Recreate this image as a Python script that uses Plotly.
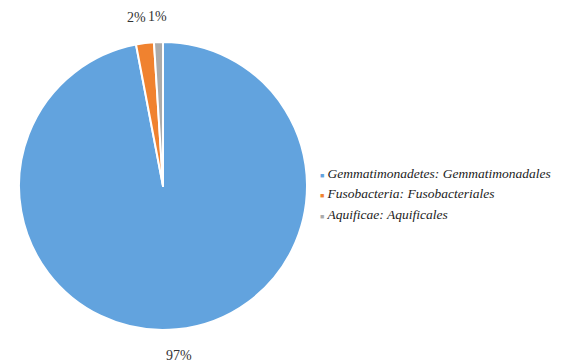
import math
import plotly.graph_objects as go

# Phylum: order shares
labels = [
    "Gemmatimonadetes: Gemmatimonadales",
    "Fusobacteria: Fusobacteriales",
    "Aquificae: Aquificales",
]
shares = [97, 2, 1]
colors = ["#62A3DE", "#F0822F", "#ABABAB"]

W, H = 567, 364
CX, CY, R = 163, 186, 144      # pie centre / radius in pixels
LABEL_R = 170                  # distance of percentage labels from centre
FONT_SIZE = 14
SERIF = "Liberation Serif, Times New Roman, serif"

fig = go.Figure()
fig.add_trace(go.Pie(
    labels=labels,
    values=shares,
    sort=False,
    direction="clockwise",
    rotation=0,
    marker=dict(colors=colors, line=dict(color="white", width=2)),
    textinfo="none",
    hoverinfo="label+percent",
    domain=dict(x=[(CX - R) / W, (CX + R) / W], y=[(H - CY - R) / H, (H - CY + R) / H]),
    showlegend=False,
))

# Legend entries: a small coloured square set tight against each italic name
for name, col in zip(labels, colors):
    swatch = f"<span style='font-size:7px;color:{col}'>■</span>"
    fig.add_trace(go.Scatter(
        x=[None], y=[None], mode="markers",
        name=f"{swatch} <i>{name}</i>",
        marker=dict(size=1, color="rgba(0,0,0,0)"),
        showlegend=True,
    ))

# Percentage labels placed outside each slice, at its mid angle
total = sum(shares)
cum = 0
placed = []
for v in shares:
    mid = (cum + v / 2) / total * 2 * math.pi   # clockwise from 12 o'clock
    cum += v
    text = f"{round(v / total * 100)}%"
    placed.append([CX + LABEL_R * math.sin(mid), CY - LABEL_R * math.cos(mid), text])

# Push apart labels that would collide (walk backwards from the last slice)
char_w = 0.68 * FONT_SIZE
for i in range(len(placed) - 2, -1, -1):
    a, b = placed[i], placed[i + 1]
    if abs(a[1] - b[1]) < FONT_SIZE:
        wa, wb = char_w * len(a[2]), char_w * len(b[2])
        min_gap = (wa + wb) / 2 + 2
        if b[0] - a[0] < min_gap:
            a[0] = b[0] - min_gap

annotations = [
    dict(
        x=px / W, y=1 - py / H, xref="paper", yref="paper",
        text=text, showarrow=False, xanchor="center", yanchor="middle",
        font=dict(family=SERIF, size=FONT_SIZE, color="#333333"),
    )
    for px, py, text in placed
]

fig.update_layout(
    width=W,
    height=H,
    margin=dict(l=0, r=0, t=0, b=0, autoexpand=False),
    paper_bgcolor="white",
    plot_bgcolor="white",
    xaxis=dict(visible=False),
    yaxis=dict(visible=False),
    annotations=annotations,
    legend=dict(
        x=280 / W,
        y=1 - 193 / H,
        xanchor="left",
        yanchor="middle",
        font=dict(family=SERIF, size=13.5, color="#222222"),
        itemwidth=30,
        tracegroupgap=0,
        bgcolor="rgba(0,0,0,0)",
    ),
)

fig.write_html("out.html")
